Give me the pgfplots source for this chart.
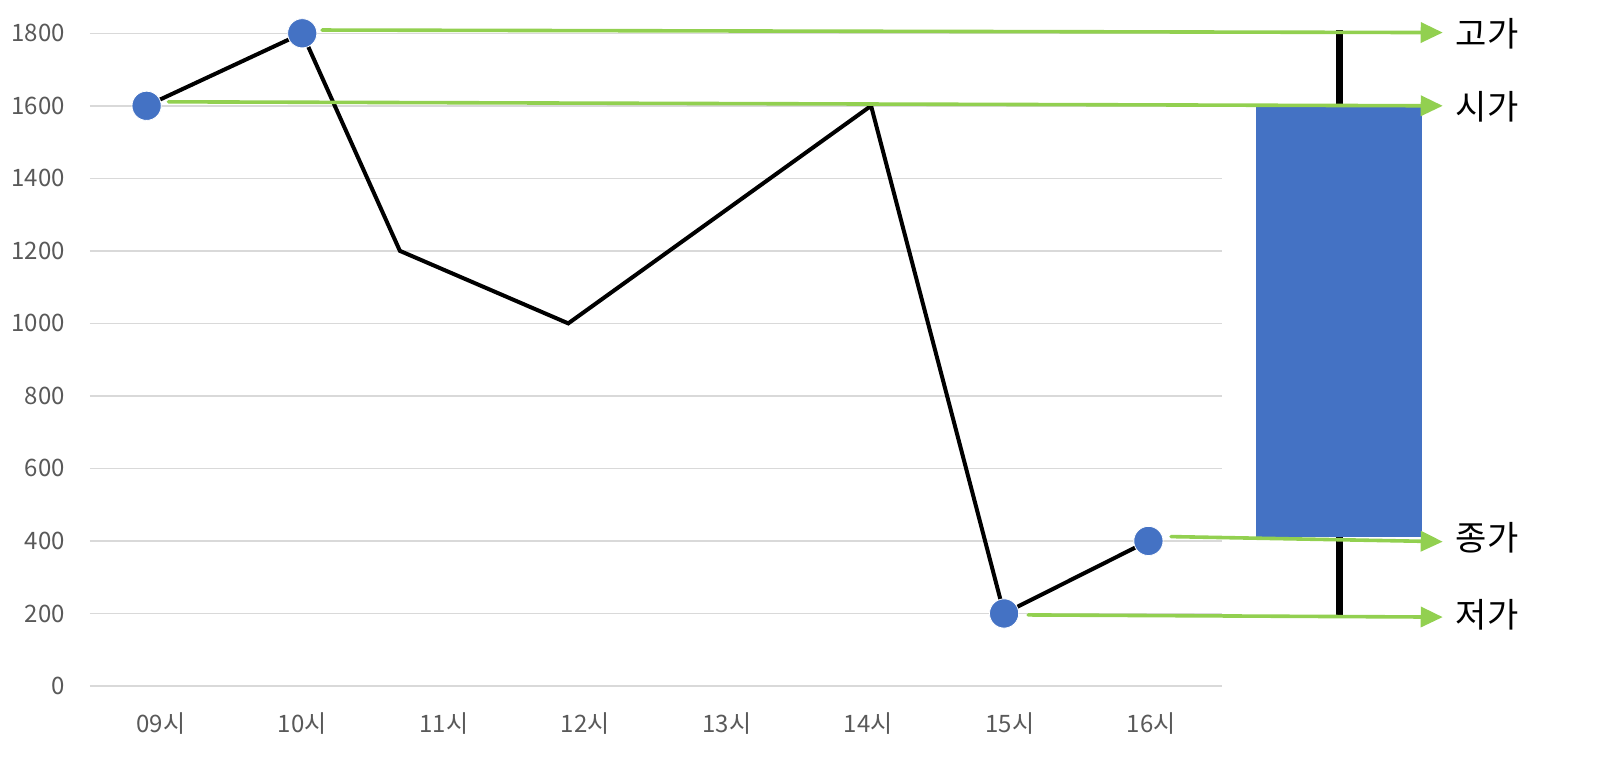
\documentclass[border=0pt]{standalone}
\usepackage{fontspec}
\setmainfont{Noto Sans CJK KR}
\usepackage{pgfplots}
\pgfplotsset{compat=1.18}
\usetikzlibrary{arrows.meta}
\definecolor{ticktext}{HTML}{595959}
\definecolor{gridgray}{HTML}{D9D9D9}
\definecolor{markblue}{HTML}{4472C4}
\definecolor{arrowgreen}{HTML}{92D050}
\tikzset{
  greenarrow/.style={arrowgreen, line width=1.8pt, line cap=round, mark=none,
    -{Triangle[length=11pt,width=10pt]}},
  pricelabel/.style={anchor=west, inner sep=0pt, font=\fontsize{17}{19}\selectfont},
}

\begin{document}
\begin{tikzpicture}
\path[use as bounding box] (-45pt,-39.5pt) rectangle (765.5pt,343pt);
\begin{axis}[
  at={(0,0)}, anchor=south west,
  scale only axis, width=566pt, height=326.35pt,
  xmin=-0.5, xmax=7.5, ymin=0, ymax=1800,
  axis line style={draw=none},
  ytick={0,200,...,1800},
  xtick={0,...,7},
  xticklabels={09시,10시,11시,12시,13시,14시,15시,16시},
  major tick length=0pt,
  ymajorgrids,
  grid style={gridgray, line width=0.75pt},
  tick label style={font=\fontsize{12}{14}\selectfont, text=ticktext},
  /pgf/number format/assume math mode=true,
  /pgf/number format/1000 sep={},
  xticklabel style={yshift=-10pt},
  yticklabel style={xshift=-9pt},
  clip=false,
]
% price path through the day
\addplot[black, line width=2pt, mark=none] coordinates {
  (-0.10,1600) (1.00,1800) (1.69,1200) (2.88,1000) (5.02,1600) (5.96,200) (6.98,400)
};
\addplot[only marks, mark=*, mark size=7.3pt,
  mark options={fill=markblue, draw=white, line width=0.4pt}] coordinates {
  (-0.10,1600) (1.00,1800) (5.96,200) (6.98,400)
};

% candle: wick and body
\addplot[black, line width=3.6pt, mark=none] coordinates {(8.33,1809) (8.33,196)};
\addplot[fill=markblue, draw=none, mark=none] coordinates {
  (7.74,412) (8.91,412) (8.91,1600) (7.74,1600)
} -- cycle;

% arrows to the labels
\addplot[greenarrow] coordinates {(1.14,1809) (9.06,1802)};
\addplot[greenarrow] coordinates {(0.054,1611) (9.06,1600)};
\addplot[greenarrow] coordinates {(7.14,412) (9.06,398)};
\addplot[greenarrow] coordinates {(6.13,196) (9.06,190)};

\node[pricelabel] at (axis cs:9.15,1800) {고가};
\node[pricelabel] at (axis cs:9.15,1596) {시가};
\node[pricelabel] at (axis cs:9.15,408) {종가};
\node[pricelabel] at (axis cs:9.15,196) {저가};
\end{axis}
\end{tikzpicture}
\end{document}
